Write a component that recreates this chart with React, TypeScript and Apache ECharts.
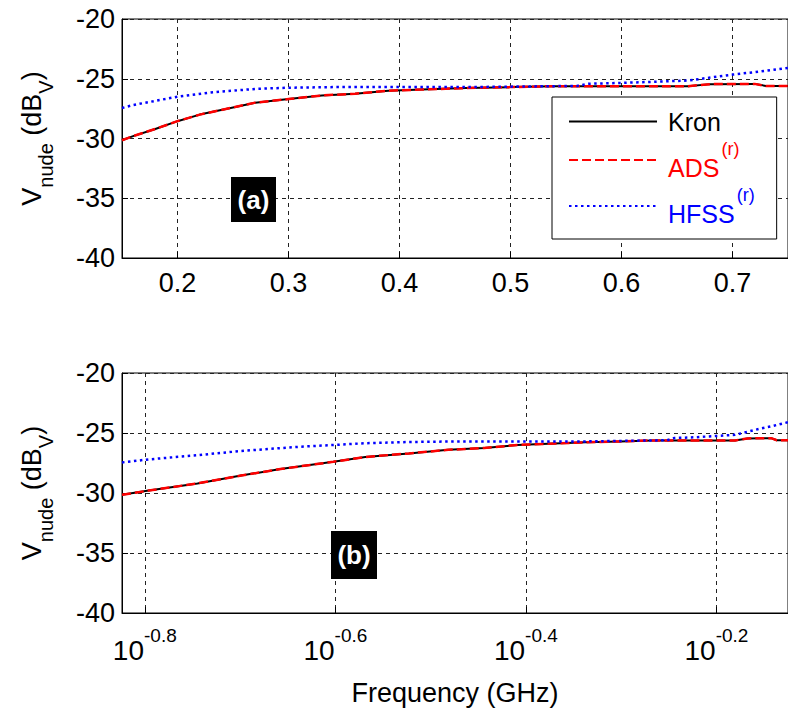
import React, { useEffect, useRef } from 'react';
import * as echarts from 'echarts';

// Frequency in GHz
const freqCurve = [0.15, 0.16, 0.18, 0.2, 0.22, 0.25, 0.27, 0.3, 0.33, 0.36, 0.39, 0.42, 0.46, 0.5, 0.54, 0.6, 0.66, 0.68, 0.72, 0.73, 0.75];
const kronDb = [-30.15, -29.8, -29.2, -28.55, -28.0, -27.4, -27.0, -26.7, -26.4, -26.25, -26.0, -25.9, -25.78, -25.7, -25.62, -25.62, -25.62, -25.45, -25.43, -25.6, -25.6];
const adsDb = [-30.15, -29.8, -29.2, -28.55, -28.0, -27.4, -27.0, -26.7, -26.4, -26.25, -26.0, -25.9, -25.78, -25.7, -25.62, -25.62, -25.62, -25.45, -25.43, -25.6, -25.6];
const freqHfss = [0.15, 0.16, 0.18, 0.2, 0.23, 0.25, 0.27, 0.3, 0.34, 0.4, 0.46, 0.54, 0.56, 0.57, 0.6, 0.63, 0.66, 0.68, 0.7, 0.72, 0.75];
const hfssDb = [-27.45, -27.2, -26.85, -26.5, -26.15, -26.0, -25.85, -25.75, -25.7, -25.7, -25.7, -25.62, -25.6, -25.42, -25.35, -25.25, -25.15, -24.9, -24.65, -24.45, -24.1];

const linearTicks = [0.2, 0.3, 0.4, 0.5, 0.6, 0.7];
const logTickExponents = [-0.8, -0.6, -0.4, -0.2];
const freqMin = 0.15;
const freqMax = 0.75;

const FONT = '"Liberation Sans", Arial, sans-serif';

const gridLine = { show: true, lineStyle: { color: '#222', type: [4, 4] as any, width: 1 } };

const yAxisBase = (gridIndex: number) => ({
  type: 'value',
  gridIndex,
  min: -40,
  max: -20,
  interval: 5,
  axisLine: { show: true, lineStyle: { color: '#000', width: 1 } },
  axisTick: { show: true, inside: true, length: 6, lineStyle: { color: '#000' } },
  axisLabel: { color: '#000', fontSize: 27, fontFamily: FONT, margin: 7 },
  splitLine: gridLine,
  name: '{v|V}{sub|nude}{v| (dB}{sub|V}{v|)}',
  nameLocation: 'middle',
  nameRotate: 90,
  nameGap: 66,
  nameTextStyle: {
    fontFamily: FONT,
    color: '#000',
    rich: {
      v: { fontSize: 27, lineHeight: 38, verticalAlign: 'top', fontFamily: FONT, color: '#000' },
      sub: { fontSize: 20, lineHeight: 20, verticalAlign: 'bottom', fontFamily: FONT, color: '#000' },
    },
  },
});

export default function App() {
  const ref = useRef<HTMLDivElement>(null);
  useEffect(() => {
    if (!ref.current) return;
    const chart = echarts.init(ref.current, undefined, { renderer: 'svg' });
    const kronLin = freqCurve.map((f, i) => [f, kronDb[i]]);
    const adsLin = freqCurve.map((f, i) => [f, adsDb[i]]);
    const hfssLin = freqHfss.map((f, i) => [f, hfssDb[i]]);
    const kronLog = freqCurve.map((f, i) => [Math.log10(f), kronDb[i]]);
    const adsLog = freqCurve.map((f, i) => [Math.log10(f), adsDb[i]]);
    const hfssLog = freqHfss.map((f, i) => [Math.log10(f), hfssDb[i]]);

    const kronStyle = { color: '#000', width: 2, type: 'solid' };
    const adsStyle = { color: '#ff0000', width: 2.5, type: [9, 4] };
    const hfssStyle = { color: '#0000ff', width: 2.5, type: [2.5, 3.5] };

    const mk = (name: string, data: any, style: any, idx: number, z: number) => ({
      type: 'line',
      name,
      data,
      xAxisIndex: idx,
      yAxisIndex: idx,
      symbol: 'none',
      showSymbol: false,
      lineStyle: style,
      itemStyle: { color: style.color },
      z,
      silent: true,
    });

    chart.setOption({
      animation: false,
      backgroundColor: '#fff',
      grid: [
        { left: 122, top: 19, right: -7, height: 239, show: true, borderColor: '#000', borderWidth: 1, backgroundColor: 'transparent' },
        { left: 122, top: 373, right: -7, height: 240, show: true, borderColor: '#000', borderWidth: 1, backgroundColor: 'transparent' },
      ],
      xAxis: [
        {
          type: 'value',
          gridIndex: 0,
          min: freqMin,
          max: freqMax,
          axisLine: { show: true, lineStyle: { color: '#000' } },
          axisTick: { show: true, inside: true, length: 6, customValues: linearTicks, lineStyle: { color: '#000' } },
          axisLabel: {
            customValues: linearTicks,
            color: '#000',
            fontSize: 27,
            fontFamily: FONT,
            margin: 11,
            formatter: (v: number) => v.toFixed(1),
          },
          splitLine: gridLine,
        },
        {
          type: 'value',
          gridIndex: 1,
          min: Math.log10(freqMin),
          max: Math.log10(freqMax),
          axisLine: { show: true, lineStyle: { color: '#000' } },
          axisTick: { show: true, inside: true, length: 6, customValues: logTickExponents, lineStyle: { color: '#000' } },
          axisLabel: {
            customValues: logTickExponents,
            margin: 13,
            fontSize: 28,
            fontFamily: FONT,
            color: '#000',
            formatter: (v: number) => `{base|10}{exp|${v.toFixed(1)}}`,
            rich: {
              base: { fontSize: 28, lineHeight: 38, verticalAlign: 'bottom', fontFamily: FONT, color: '#000' },
              exp: { fontSize: 19, lineHeight: 19, verticalAlign: 'top', fontFamily: FONT, color: '#000' },
            },
          },
          splitLine: gridLine,
          name: 'Frequency (GHz)',
          nameLocation: 'middle',
          nameGap: 66,
          nameTextStyle: { fontSize: 27, fontFamily: FONT, color: '#000' },
        },
      ],
      yAxis: [yAxisBase(0), yAxisBase(1)],
      legend: {
        data: ['Kron', 'ADS', 'HFSS'],
        orient: 'vertical',
        left: 552,
        top: 97,
        padding: [12, 22, 13, 16],
        itemGap: 6,
        itemWidth: 88,
        itemHeight: 14,
        backgroundColor: '#fff',
        borderColor: '#000',
        borderWidth: 1,
        borderRadius: 0,
        selectedMode: false,
        itemStyle: { opacity: 0 },
        textStyle: {
          fontFamily: FONT,
          rich: {
            k: { fontSize: 25, lineHeight: 25, color: '#000', fontFamily: FONT, padding: [0, 0, 0, 6] },
            a: { fontSize: 25, lineHeight: 40, verticalAlign: 'bottom', color: '#ff0000', fontFamily: FONT, padding: [0, 0, 0, 6] },
            as: { fontSize: 18, lineHeight: 18, verticalAlign: 'top', color: '#ff0000', fontFamily: FONT, padding: [0, 0, 0, 2] },
            h: { fontSize: 25, lineHeight: 40, verticalAlign: 'bottom', color: '#0000ff', fontFamily: FONT, padding: [0, 0, 0, 6] },
            hs: { fontSize: 18, lineHeight: 18, verticalAlign: 'top', color: '#0000ff', fontFamily: FONT, padding: [0, 0, 0, 2] },
          },
        },
        formatter: (name: string) =>
          name === 'Kron' ? '{k|Kron}' : name === 'ADS' ? '{a|ADS}{as|(r)}' : '{h|HFSS}{hs|(r)}',
      },
      graphic: [
        { type: 'rect', left: 231, top: 177, shape: { width: 45, height: 45 }, style: { fill: '#000' }, z: 100 },
        { type: 'text', x: 253.5, y: 199.5, style: { text: '(a)', fill: '#fff', font: `bold 26px ${FONT}`, align: 'center', verticalAlign: 'middle' }, z: 101 },
        { type: 'rect', left: 331, top: 531, shape: { width: 46, height: 48 }, style: { fill: '#000' }, z: 100 },
        { type: 'text', x: 354, y: 555, style: { text: '(b)', fill: '#fff', font: `bold 26px ${FONT}`, align: 'center', verticalAlign: 'middle' }, z: 101 },
      ],
      series: [
        mk('Kron', kronLin, kronStyle, 0, 2),
        mk('ADS', adsLin, adsStyle, 0, 3),
        mk('HFSS', hfssLin, hfssStyle, 0, 4),
        mk('Kron', kronLog, kronStyle, 1, 2),
        mk('ADS', adsLog, adsStyle, 1, 3),
        mk('HFSS', hfssLog, hfssStyle, 1, 4),
      ],
    });
    return () => chart.dispose();
  }, []);
  return (
    <div
      ref={ref}
      style={{ position: 'fixed', left: 0, top: 0, width: 788, height: 713, background: '#fff' }}
    />
  );
}
